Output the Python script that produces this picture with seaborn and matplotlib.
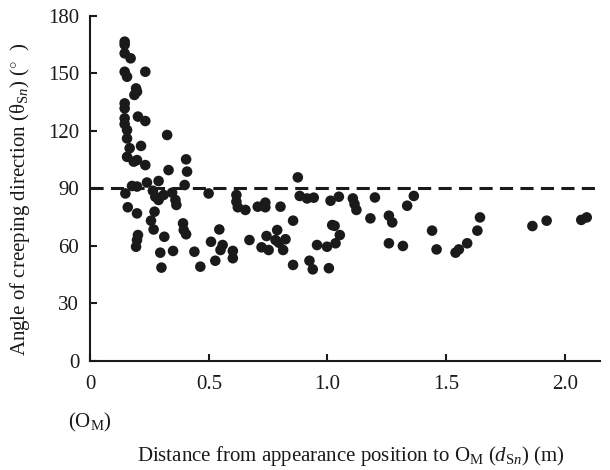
import matplotlib
matplotlib.use("Agg")
import matplotlib.pyplot as plt
import seaborn as sns
import pandas as pd

# distance from appearance position to O_M (m)
dist = [0.145, 0.145, 0.145, 0.170, 0.145, 0.155, 0.232, 0.193, 0.197, 0.186,
        0.145, 0.145, 0.201, 0.232, 0.145, 0.145, 0.155, 0.324, 0.155, 0.166,
        0.214, 0.155, 0.183, 0.197, 0.232, 0.404, 0.408, 0.330, 0.176, 0.197,
        0.239, 0.288, 0.398, 0.148, 0.499, 0.264, 0.274, 0.288, 0.309, 0.345,
        0.359, 0.363, 0.158, 0.197, 0.271, 0.256, 0.267, 0.201, 0.197, 0.193,
        0.312, 0.391, 0.394, 0.404, 0.295, 0.349, 0.439, 0.300, 0.464, 0.509,
        0.544, 0.527, 0.549, 0.558, 0.601, 0.601, 0.616, 0.616, 0.622, 0.654,
        0.671, 0.706, 0.738, 0.738, 0.802, 0.722, 0.752, 0.743, 0.788, 0.781,
        0.795, 0.823, 0.813, 0.855, 0.855, 0.875, 0.883, 0.914, 0.942, 0.924,
        0.938, 0.956, 0.998, 1.006, 1.013, 1.048, 1.020, 1.030, 1.052, 1.034,
        1.107, 1.114, 1.122, 1.181, 1.200, 1.259, 1.273, 1.259, 1.318, 1.336,
        1.364, 1.441, 1.460, 1.540, 1.554, 1.589, 1.632, 1.643, 1.864, 1.924,
        2.070, 2.093]
# angle of creeping direction (deg)
angle = [166.6, 165.0, 160.5, 157.9, 150.9, 148.3, 150.9, 142.2, 140.5, 138.8,
         134.4, 131.8, 127.5, 125.2, 126.6, 123.6, 120.5, 117.9, 116.1, 111.0,
         112.2, 106.5, 104.0, 104.8, 102.2, 105.2, 98.8, 99.6, 91.3, 91.0,
         93.1, 93.9, 91.8, 87.4, 87.4, 88.8, 85.7, 84.0, 86.6, 87.8,
         84.0, 81.4, 80.2, 77.0, 77.9, 73.2, 68.6, 65.7, 63.1, 59.6,
         64.8, 71.8, 68.3, 66.1, 56.5, 57.4, 57.0, 48.7, 49.2, 62.2,
         68.6, 52.3, 57.9, 60.5, 57.4, 53.6, 86.6, 83.1, 80.2, 78.8,
         63.1, 80.5, 82.6, 80.2, 80.5, 59.3, 57.9, 65.2, 68.3, 63.1,
         61.7, 63.5, 57.9, 73.2, 50.1, 95.8, 86.1, 84.8, 85.2, 52.3,
         47.8, 60.5, 59.6, 48.4, 83.6, 85.7, 70.9, 70.5, 65.7, 61.4,
         84.8, 81.9, 78.8, 74.4, 85.3, 75.8, 72.3, 61.4, 60.0, 81.0,
         86.1, 68.0, 58.2, 56.5, 58.2, 61.4, 68.0, 74.9, 70.4, 73.2,
         73.6, 74.9]
y_ticks = [0, 30, 60, 90, 120, 150, 180]
x_ticks = [0, 0.5, 1.0, 1.5, 2.0]
x_tick_labels = ["0", "0.5", "1.0", "1.5", "2.0"]

df = pd.DataFrame({"dist": dist, "angle": angle})

sns.set_style("ticks")
plt.rcParams["font.family"] = ["Liberation Serif", "DejaVu Serif"]
plt.rcParams["mathtext.fontset"] = "custom"
plt.rcParams["mathtext.rm"] = "Liberation Serif"
plt.rcParams["mathtext.it"] = "Liberation Serif:italic"

fig, ax = plt.subplots(figsize=(6.1, 4.7), dpi=100)
fig.subplots_adjust(left=0.148, right=0.984, bottom=0.232, top=0.966)

sns.scatterplot(x="dist", y="angle", data=df, ax=ax, color="#1a1a1a",
                s=58, edgecolor="none", zorder=3)
ax.axhline(90, color="#1a1a1a", lw=2.2, ls=(0, (4.3, 2.4)), zorder=2)

ax.set_xlim(0, 2.15)
ax.set_ylim(0, 180)
ax.set_xticks(x_ticks)
ax.set_xticklabels(x_tick_labels)
ax.set_yticks(y_ticks)
ax.tick_params(direction="in", length=5, width=1.5, labelsize=15, colors="#1a1a1a")
ax.tick_params(axis="x", pad=10)
ax.tick_params(axis="y", pad=8)
sns.despine(ax=ax)
for sp in ["left", "bottom"]:
    ax.spines[sp].set_linewidth(1.5)
    ax.spines[sp].set_color("#1a1a1a")

ax.set_xlabel(r"Distance from appearance position to O$_{\mathrm{M}}$ ($d_{\mathrm{S}n}$) (m)",
              fontsize=15, color="#1a1a1a")
ax.xaxis.set_label_coords(0.51, -0.24)
ax.set_ylabel(r"Angle of creeping direction ($\mathrm{\theta}_{\mathrm{S}n}$) ($^{\circ}$  )",
              fontsize=15, color="#1a1a1a")
ax.yaxis.set_label_coords(-0.115, 0.47)
ax.text(0, -0.178, r"(O$_{\mathrm{M}}$)", transform=ax.get_xaxis_transform(),
        ha="center", va="center", fontsize=15, color="#1a1a1a")

fig.savefig("out.png", dpi=100)
